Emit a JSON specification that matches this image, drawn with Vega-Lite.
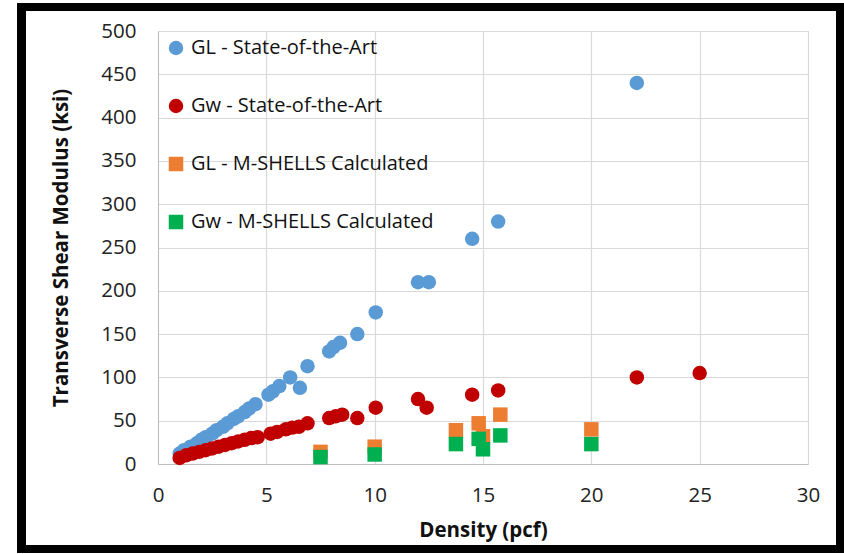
{
  "$schema": "https://vega.github.io/schema/vega-lite/v6.json",
  "autosize": "none",
  "width": 650,
  "height": 433,
  "padding": {"left": 158, "top": 31, "right": 36, "bottom": 90},
  "background": "white",
  "config": {
    "font": "Open Sans",
    "view": {"stroke": "#d9d9d9", "strokeWidth": 1},
    "axis": {
      "labelFont": "Open Sans",
      "titleFont": "Open Sans",
      "labelFontSize": 20.5,
      "titleFontSize": 20.5,
      "labelColor": "#222222",
      "titleColor": "#111111",
      "titleFontWeight": "bold",
      "gridColor": "#d9d9d9",
      "gridWidth": 1.2,
      "domainColor": "#bfbfbf",
      "ticks": false,
      "labelFlush": false
    }
  },
  "data": {
    "values": [
      {"series": "GL - State-of-the-Art", "density": 1.0, "modulus": 12},
      {"series": "GL - State-of-the-Art", "density": 1.2, "modulus": 16},
      {"series": "GL - State-of-the-Art", "density": 1.5, "modulus": 20},
      {"series": "GL - State-of-the-Art", "density": 1.8, "modulus": 24},
      {"series": "GL - State-of-the-Art", "density": 2.0, "modulus": 28},
      {"series": "GL - State-of-the-Art", "density": 2.2, "modulus": 31},
      {"series": "GL - State-of-the-Art", "density": 2.5, "modulus": 35},
      {"series": "GL - State-of-the-Art", "density": 2.7, "modulus": 39},
      {"series": "GL - State-of-the-Art", "density": 3.0, "modulus": 43},
      {"series": "GL - State-of-the-Art", "density": 3.2, "modulus": 47},
      {"series": "GL - State-of-the-Art", "density": 3.5, "modulus": 52},
      {"series": "GL - State-of-the-Art", "density": 3.7, "modulus": 55},
      {"series": "GL - State-of-the-Art", "density": 4.0, "modulus": 60},
      {"series": "GL - State-of-the-Art", "density": 4.2, "modulus": 64},
      {"series": "GL - State-of-the-Art", "density": 4.5, "modulus": 69},
      {"series": "GL - State-of-the-Art", "density": 5.1, "modulus": 80},
      {"series": "GL - State-of-the-Art", "density": 5.3, "modulus": 84},
      {"series": "GL - State-of-the-Art", "density": 5.6, "modulus": 90},
      {"series": "GL - State-of-the-Art", "density": 6.1, "modulus": 100},
      {"series": "GL - State-of-the-Art", "density": 6.55, "modulus": 88},
      {"series": "GL - State-of-the-Art", "density": 6.9, "modulus": 113},
      {"series": "GL - State-of-the-Art", "density": 7.9, "modulus": 130},
      {"series": "GL - State-of-the-Art", "density": 8.1, "modulus": 135},
      {"series": "GL - State-of-the-Art", "density": 8.4, "modulus": 140},
      {"series": "GL - State-of-the-Art", "density": 9.2, "modulus": 150},
      {"series": "GL - State-of-the-Art", "density": 10.05, "modulus": 175},
      {"series": "GL - State-of-the-Art", "density": 12.0, "modulus": 210},
      {"series": "GL - State-of-the-Art", "density": 12.5, "modulus": 210},
      {"series": "GL - State-of-the-Art", "density": 14.5, "modulus": 260},
      {"series": "GL - State-of-the-Art", "density": 15.7, "modulus": 280},
      {"series": "GL - State-of-the-Art", "density": 22.1, "modulus": 440},
      {"series": "Gw - State-of-the-Art", "density": 1.0, "modulus": 7},
      {"series": "Gw - State-of-the-Art", "density": 1.3, "modulus": 10},
      {"series": "Gw - State-of-the-Art", "density": 1.6, "modulus": 12},
      {"series": "Gw - State-of-the-Art", "density": 1.9, "modulus": 14},
      {"series": "Gw - State-of-the-Art", "density": 2.2, "modulus": 16},
      {"series": "Gw - State-of-the-Art", "density": 2.5, "modulus": 18},
      {"series": "Gw - State-of-the-Art", "density": 2.8, "modulus": 20},
      {"series": "Gw - State-of-the-Art", "density": 3.1, "modulus": 22},
      {"series": "Gw - State-of-the-Art", "density": 3.4, "modulus": 24},
      {"series": "Gw - State-of-the-Art", "density": 3.7, "modulus": 26},
      {"series": "Gw - State-of-the-Art", "density": 4.0, "modulus": 28},
      {"series": "Gw - State-of-the-Art", "density": 4.3, "modulus": 30},
      {"series": "Gw - State-of-the-Art", "density": 4.6, "modulus": 31},
      {"series": "Gw - State-of-the-Art", "density": 5.2, "modulus": 35},
      {"series": "Gw - State-of-the-Art", "density": 5.5, "modulus": 37},
      {"series": "Gw - State-of-the-Art", "density": 5.9, "modulus": 40},
      {"series": "Gw - State-of-the-Art", "density": 6.2, "modulus": 42},
      {"series": "Gw - State-of-the-Art", "density": 6.5, "modulus": 43},
      {"series": "Gw - State-of-the-Art", "density": 6.9, "modulus": 47},
      {"series": "Gw - State-of-the-Art", "density": 7.9, "modulus": 53},
      {"series": "Gw - State-of-the-Art", "density": 8.2, "modulus": 55},
      {"series": "Gw - State-of-the-Art", "density": 8.5, "modulus": 57},
      {"series": "Gw - State-of-the-Art", "density": 9.2, "modulus": 53},
      {"series": "Gw - State-of-the-Art", "density": 10.05, "modulus": 65},
      {"series": "Gw - State-of-the-Art", "density": 12.0, "modulus": 75},
      {"series": "Gw - State-of-the-Art", "density": 12.4, "modulus": 65},
      {"series": "Gw - State-of-the-Art", "density": 14.5, "modulus": 80},
      {"series": "Gw - State-of-the-Art", "density": 15.7, "modulus": 85},
      {"series": "Gw - State-of-the-Art", "density": 22.1, "modulus": 100},
      {"series": "Gw - State-of-the-Art", "density": 25.0, "modulus": 105},
      {"series": "GL - M-SHELLS Calculated", "density": 7.5, "modulus": 14},
      {"series": "GL - M-SHELLS Calculated", "density": 10.0, "modulus": 20},
      {"series": "GL - M-SHELLS Calculated", "density": 13.75, "modulus": 39},
      {"series": "GL - M-SHELLS Calculated", "density": 14.8, "modulus": 47},
      {"series": "GL - M-SHELLS Calculated", "density": 15.0, "modulus": 32},
      {"series": "GL - M-SHELLS Calculated", "density": 15.8, "modulus": 57},
      {"series": "GL - M-SHELLS Calculated", "density": 20.0, "modulus": 40},
      {"series": "Gw - M-SHELLS Calculated", "density": 7.5, "modulus": 8},
      {"series": "Gw - M-SHELLS Calculated", "density": 10.0, "modulus": 11},
      {"series": "Gw - M-SHELLS Calculated", "density": 13.75, "modulus": 23},
      {"series": "Gw - M-SHELLS Calculated", "density": 14.8, "modulus": 29},
      {"series": "Gw - M-SHELLS Calculated", "density": 15.0, "modulus": 17},
      {"series": "Gw - M-SHELLS Calculated", "density": 15.8, "modulus": 33},
      {"series": "Gw - M-SHELLS Calculated", "density": 20.0, "modulus": 23}
    ]
  },
  "layer": [
    {
      "mark": {"type": "point", "filled": true, "opacity": 1, "size": 210},
      "encoding": {
        "x": {
          "field": "density", "type": "quantitative",
          "scale": {"domain": [0, 30], "nice": false},
          "axis": {"values": [0, 5, 10, 15, 20, 25, 30], "title": "Density (pcf)", "labelPadding": 21, "titlePadding": 15, "grid": true}
        },
        "y": {
          "field": "modulus", "type": "quantitative",
          "scale": {"domain": [0, 500], "nice": false},
          "axis": {"values": [0, 50, 100, 150, 200, 250, 300, 350, 400, 450, 500], "title": "Transverse Shear Modulus (ksi)", "labelPadding": 22, "titlePadding": 29, "grid": true}
        },
        "color": {
          "field": "series", "type": "nominal",
          "scale": {
            "domain": ["GL - State-of-the-Art", "Gw - State-of-the-Art", "GL - M-SHELLS Calculated", "Gw - M-SHELLS Calculated"],
            "range": ["#5B9BD5", "#C00000", "#ED7D31", "#00B050"]
          },
          "legend": {
            "title": null, "orient": "none", "legendX": 8, "legendY": 7, "padding": 0,
            "labelFont": "Open Sans", "labelFontSize": 20, "labelColor": "#111111",
            "symbolSize": 180, "rowPadding": 38, "labelOffset": 5, "labelLimit": 400
          }
        },
        "shape": {
          "field": "series", "type": "nominal",
          "scale": {
            "domain": ["GL - State-of-the-Art", "Gw - State-of-the-Art", "GL - M-SHELLS Calculated", "Gw - M-SHELLS Calculated"],
            "range": ["circle", "circle", "square", "square"]
          },
          "legend": null
        },
        "size": {
          "field": "series", "type": "nominal",
          "scale": {
            "domain": ["GL - State-of-the-Art", "Gw - State-of-the-Art", "GL - M-SHELLS Calculated", "Gw - M-SHELLS Calculated"],
            "range": [210, 210, 256, 256]
          },
          "legend": null
        }
      }
    },
    {
      "mark": {"type": "rect", "fill": null, "stroke": "black", "strokeWidth": 8, "clip": false},
      "encoding": {
        "x": {"datum": -6.32, "type": "quantitative"},
        "x2": {"datum": 31.52},
        "y": {"datum": 527.7, "type": "quantitative"},
        "y2": {"datum": -98.2}
      }
    }
  ]
}
